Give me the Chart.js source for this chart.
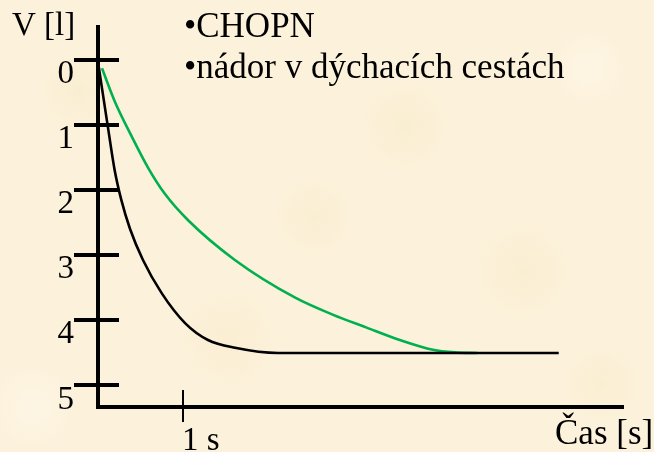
<!DOCTYPE html>
<html>
<head>
<meta charset="utf-8">
<script src="https://cdn.jsdelivr.net/npm/chart.js@4"></script>
<style>
    html, body { margin: 0; padding: 0; }
    body {
        width: 654px;
        height: 452px;
        overflow: hidden;
        background-color: #fcf1da;
        background-image:
            radial-gradient(circle at 12% 20%, rgba(242, 225, 178, 0.22) 0, rgba(242, 225, 178, 0) 40px),
            radial-gradient(circle at 62% 28%, rgba(242, 225, 178, 0.22) 0, rgba(242, 225, 178, 0) 45px),
            radial-gradient(circle at 80% 60%, rgba(242, 225, 178, 0.20) 0, rgba(242, 225, 178, 0) 50px),
            radial-gradient(circle at 35% 75%, rgba(242, 225, 178, 0.20) 0, rgba(242, 225, 178, 0) 50px),
            radial-gradient(circle at 48% 48%, rgba(242, 225, 178, 0.20) 0, rgba(242, 225, 178, 0) 40px),
            radial-gradient(circle at 92% 85%, rgba(242, 225, 178, 0.20) 0, rgba(242, 225, 178, 0) 40px),
            radial-gradient(circle at 90% 15%, rgba(255, 250, 240, 0.45) 0, rgba(255, 250, 240, 0) 45px),
            radial-gradient(circle at 5% 90%, rgba(255, 250, 240, 0.45) 0, rgba(255, 250, 240, 0) 50px);
    }
    canvas { display: block; }
</style>
</head>
<body>
<canvas id="flowChart" width="654" height="452"></canvas>
<script>
// time [s] and volume [l]
const tNormal = [0.005, 0.118, 0.196, 0.275, 0.376, 0.529, 0.749, 1.024, 1.294, 1.612, 2.118, 2.6, 5.42];
const vNormal = [0.08, 1.05, 1.70, 2.16, 2.60, 3.08, 3.59, 4.05, 4.31, 4.43, 4.51, 4.51, 4.51];
const tObstr = [0.047, 0.196, 0.392, 0.588, 0.784, 1.06, 1.61, 2.32, 2.76, 3.16, 3.55, 3.94, 4.2, 4.46];
const vObstr = [0.135, 0.64, 1.17, 1.66, 2.06, 2.47, 3.08, 3.66, 3.92, 4.12, 4.31, 4.46, 4.50, 4.51];
const yTicks = [0, 1, 2, 3, 4, 5];
const xTicks = [1];
const xTickLabels = ["1 s"];
const yTitle = "V [l]";
const xTitle = "Čas [s]";
const notes = ["•CHOPN", "•nádor v dýchacích cestách"];

const FONT = "'Liberation Serif', 'Times New Roman', serif";

const toPoints = (ts, vs) => ts.map((t, i) => ({ x: t, y: vs[i] }));

const crossTicks = {
    id: "crossTicks",
    afterDraw(chart) {
        const ctx = chart.ctx;
        const xs = chart.scales.x;
        const ys = chart.scales.y;
        ctx.save();
        ctx.strokeStyle = "#000";
        ctx.lineWidth = 4;
        yTicks.forEach(v => {
            const y = Math.round(ys.getPixelForValue(v));
            ctx.beginPath();
            ctx.moveTo(74, y);
            ctx.lineTo(119, y);
            ctx.stroke();
        });
        ctx.lineWidth = 2;
        xTicks.forEach(v => {
            const x = Math.round(xs.getPixelForValue(v));
            ctx.beginPath();
            ctx.moveTo(x, 390);
            ctx.lineTo(x, 422);
            ctx.stroke();
        });

        ctx.fillStyle = "#000";
        ctx.textAlign = "left";
        ctx.textBaseline = "alphabetic";
        ctx.font = "33px " + FONT;
        ctx.fillText(yTitle, 12, 35);
        ctx.font = "35px " + FONT;
        ctx.fillText(xTitle, 555, 444);
        ctx.fillText(notes[0], 184, 37);
        ctx.fillText(notes[1], 184, 78);
        ctx.restore();
    }
};

new Chart(document.getElementById("flowChart"), {
    type: "line",
    data: {
        datasets: [
            {
                label: "normal",
                data: toPoints(tNormal, vNormal),
                borderColor: "#000000",
                borderWidth: 2.6,
                pointRadius: 0,
                cubicInterpolationMode: "monotone"
            },
            {
                label: "obstrukce",
                data: toPoints(tObstr, vObstr),
                borderColor: "#00b050",
                borderWidth: 2.6,
                pointRadius: 0,
                cubicInterpolationMode: "monotone"
            }
        ]
    },
    options: {
        responsive: false,
        animation: false,
        devicePixelRatio: 1,
        layout: { padding: { top: 27, right: 31, left: 0, bottom: 0 } },
        plugins: {
            legend: { display: false },
            tooltip: { enabled: false }
        },
        scales: {
            x: {
                type: "linear",
                min: 0,
                max: 6.176,
                grid: { display: false, drawTicks: false },
                border: { display: true, color: "#000", width: 4 },
                afterFit: s => {
                    s.height = 45;
                    s.paddingLeft = 0;
                    s.paddingRight = 0;
                },
                afterBuildTicks: s => { s.ticks = xTicks.map(v => ({ value: v })); },
                ticks: {
                    align: "start",
                    padding: 15,
                    labelOffset: -1,
                    color: "#000",
                    font: { family: FONT, size: 33 },
                    callback: (v) => xTickLabels[xTicks.indexOf(v)]
                }
            },
            y: {
                type: "linear",
                reverse: true,
                min: -0.5,
                max: 5.34,
                grid: { display: false, drawTicks: false },
                border: { display: true, color: "#000", width: 4 },
                afterFit: s => {
                    s.width = 98;
                    s.paddingTop = 0;
                    s.paddingBottom = 0;
                },
                afterBuildTicks: s => { s.ticks = yTicks.map(v => ({ value: v })); },
                ticks: {
                    padding: 24,
                    labelOffset: 15,
                    color: "#000",
                    font: { family: FONT, size: 33 }
                }
            }
        }
    },
    plugins: [crossTicks]
});
</script>
</body>
</html>
